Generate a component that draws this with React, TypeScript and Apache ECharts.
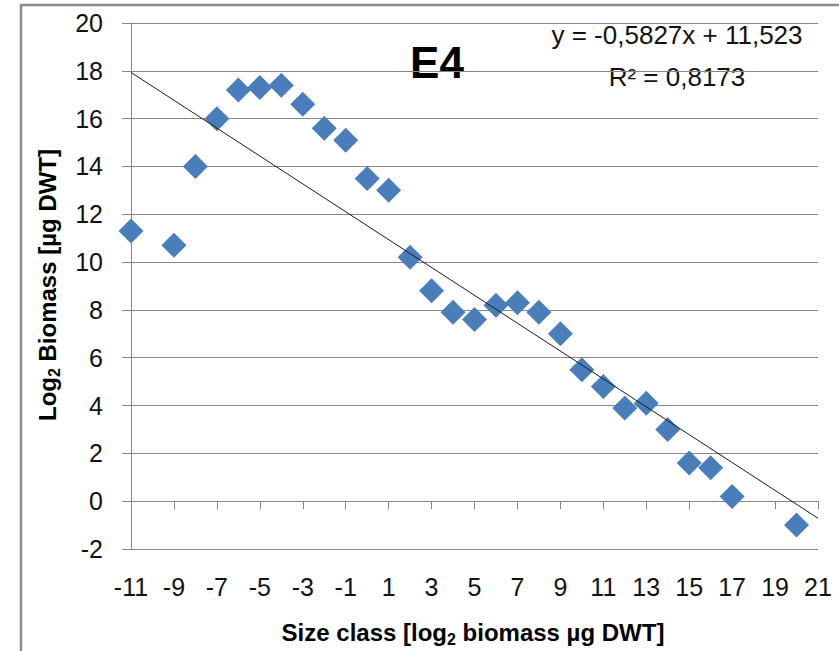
import React, { useEffect, useRef } from "react";
import * as echarts from "echarts";

// Data
const sizeClass = [-11, -9, -8, -7, -6, -5, -4, -3, -2, -1, 0, 1, 2, 3, 4, 5, 6, 7, 8, 9, 10, 11, 12, 13, 14, 15, 16, 17, 20];
const log2Biomass = [11.3, 10.7, 14.0, 16.0, 17.2, 17.3, 17.4, 16.6, 15.6, 15.1, 13.5, 13.0, 10.2, 8.8, 7.9, 7.6, 8.2, 8.3, 7.9, 7.0, 5.5, 4.8, 3.9, 4.1, 3.0, 1.6, 1.4, 0.2, -1.0];
const trendSlope = -0.5827;
const trendIntercept = 11.523;
const trendRange = [-11, 21];
const xMin = -11;
const xMax = 21;
const yMin = -2;
const yMax = 20;
const tickStep = 2;
const chartTitle = "E4";
const equationText = "y = -0,5827x + 11,523";
const r2Text = "R² = 0,8173";

const FONT = "'Liberation Sans', Arial, sans-serif";
const GRID_COLOR = "#868686";

export default function App() {
  const ref = useRef<HTMLDivElement>(null);
  useEffect(() => {
    if (!ref.current) return;
    const chart = echarts.init(ref.current, undefined, { renderer: "svg" });
    const off = -xMin; // shift so that axis min is a multiple of the interval
    const scatterData = sizeClass.map((x, i) => [x + off, log2Biomass[i]]);
    const trendData = trendRange.map((x) => [x + off, trendSlope * x + trendIntercept]);
    chart.setOption({
      animation: false,
      backgroundColor: "#ffffff",
      textStyle: { fontFamily: FONT },
      grid: { left: 131, top: 23, width: 687, height: 526, containLabel: false },
      xAxis: {
        type: "value",
        min: 0,
        max: xMax - xMin,
        interval: tickStep,
        axisLine: { show: true, lineStyle: { color: GRID_COLOR, width: 1 } },
        axisTick: { show: true, length: 8, lineStyle: { color: GRID_COLOR } },
        splitLine: { show: false },
        axisLabel: {
          color: "#111",
          fontSize: 25,
          fontFamily: FONT,
          margin: 25,
          formatter: (v: number) => String(v - off),
        },
      },
      yAxis: {
        type: "value",
        min: yMin,
        max: yMax,
        interval: tickStep,
        axisLine: { show: true, lineStyle: { color: GRID_COLOR, width: 1 } },
        axisTick: { show: true, length: 9, lineStyle: { color: GRID_COLOR } },
        splitLine: { show: true, lineStyle: { color: GRID_COLOR, width: 1 } },
        axisLabel: { color: "#111", fontSize: 25, fontFamily: FONT, margin: 28 },
      },
      series: [
        {
          type: "line",
          data: trendData,
          symbol: "none",
          lineStyle: { color: "#1a1a1a", width: 1 },
          z: 3,
          silent: true,
        },
        {
          type: "scatter",
          data: scatterData,
          symbol: "diamond",
          symbolSize: 25,
          itemStyle: { color: "#4A7EBB", opacity: 1 },
          z: 2,
        },
      ],
      graphic: [
        {
          type: "rect",
          shape: { x: 21, y: 5, width: 840, height: 680 },
          style: { fill: "none", stroke: "#8c8c8c", lineWidth: 2.5 },
          silent: true,
        },
        {
          type: "text",
          x: 437,
          y: 62,
          style: {
            text: chartTitle,
            fontSize: 44,
            fontWeight: "bold",
            fontFamily: FONT,
            fill: "#000",
            align: "center",
            verticalAlign: "middle",
          },
        },
        {
          type: "text",
          x: 677,
          y: 35,
          style: {
            text: equationText,
            fontSize: 26,
            fontFamily: FONT,
            fill: "#111",
            align: "center",
            verticalAlign: "middle",
          },
        },
        {
          type: "text",
          x: 677,
          y: 77,
          style: {
            text: r2Text,
            fontSize: 26,
            fontFamily: FONT,
            fill: "#111",
            align: "center",
            verticalAlign: "middle",
          },
        },
        {
          type: "text",
          x: 47,
          y: 285,
          rotation: Math.PI / 2,
          style: {
            text: "{a|Log}{b|2}{a| Biomass [µg DWT]}",
            align: "center",
            verticalAlign: "middle",
            fill: "#000",
            rich: {
              a: { fontSize: 24, fontWeight: "bold", fontFamily: FONT, lineHeight: 30, verticalAlign: "middle", fill: "#000" },
              b: { fontSize: 16, fontWeight: "bold", fontFamily: FONT, lineHeight: 16, verticalAlign: "bottom", fill: "#000" },
            },
          },
        },
        {
          type: "text",
          x: 473,
          y: 632,
          style: {
            text: "{a|Size class [log}{b|2}{a| biomass µg DWT]}",
            align: "center",
            verticalAlign: "middle",
            fill: "#000",
            rich: {
              a: { fontSize: 24, fontWeight: "bold", fontFamily: FONT, lineHeight: 30, verticalAlign: "middle", fill: "#000" },
              b: { fontSize: 16, fontWeight: "bold", fontFamily: FONT, lineHeight: 16, verticalAlign: "bottom", fill: "#000" },
            },
          },
        },
      ],
    });
    return () => chart.dispose();
  }, []);
  return (
    <div
      ref={ref}
      style={{ position: "fixed", left: 0, top: 0, width: 839, height: 651, background: "#fff" }}
    />
  );
}
